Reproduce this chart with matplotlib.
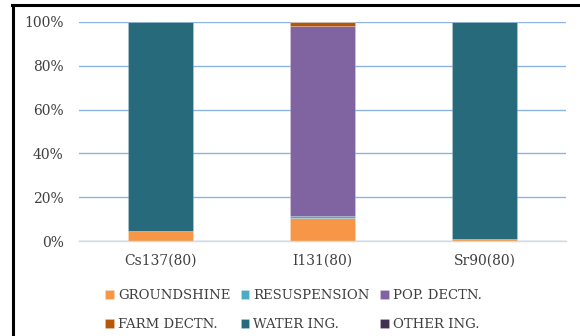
import matplotlib
matplotlib.use("Agg")
import matplotlib.pyplot as plt
from matplotlib.lines import Line2D
from matplotlib.ticker import FuncFormatter
import numpy as np

# Share of dose by exposure pathway (percent)
categories = ["Cs137(80)", "I131(80)", "Sr90(80)"]
groundshine = [4.6, 10.5, 0.9]
resuspension = [0.1, 0.8, 0.0]
pop_dectn = [0.0, 86.8, 0.0]
farm_dectn = [0.0, 1.9, 0.0]
water_ing = [95.3, 0.0, 99.1]
other_ing = [0.0, 0.0, 0.0]

series = [
    ("GROUNDSHINE", groundshine, "#F79646"),
    ("RESUSPENSION", resuspension, "#4BACC6"),
    ("POP. DECTN.", pop_dectn, "#8064A2"),
    ("FARM DECTN.", farm_dectn, "#B65708"),
    ("WATER ING.", water_ing, "#276A7C"),
    ("OTHER ING.", other_ing, "#403152"),
]

plt.rcParams["font.family"] = ["DejaVu Serif"]
text_color = "#404040"

fig = plt.figure(figsize=(5.8, 3.36), dpi=100)
ax = fig.add_axes([0.136, 0.2827, 0.840, 0.652])

x = np.arange(len(categories))
bottom = np.zeros(len(categories))
for name, vals, color in series:
    vals = np.array(vals, dtype=float)
    ax.bar(x, vals, width=0.4, bottom=bottom, color=color, label=name,
           edgecolor=(1, 1, 1, 0.25), linewidth=0.5, zorder=3)
    bottom += vals

ax.set_xlim(-0.5, len(categories) - 0.5)
ax.set_ylim(0, 100)
ax.set_yticks(np.arange(0, 101, 20))
ax.yaxis.set_major_formatter(FuncFormatter(lambda v, p: f"{v:.0f}%"))
ax.set_xticks(x)
ax.set_xticklabels(categories)
ax.grid(axis="y", color="#8EB4E3", linewidth=1.0, zorder=0)
ax.tick_params(axis="both", length=0, labelsize=10, colors=text_color)
ax.tick_params(axis="y", pad=11)
ax.tick_params(axis="x", pad=9)
for side in ("top", "right", "left"):
    ax.spines[side].set_visible(False)
ax.spines["bottom"].set_color("#D9D9D9")
ax.spines["bottom"].set_linewidth(1.0)
ax.spines["bottom"].set_zorder(4)

handles, labels = ax.get_legend_handles_labels()
# reorder so the legend fills row by row
order = [0, 3, 1, 4, 2, 5]
leg = fig.legend([handles[i] for i in order], [labels[i] for i in order],
                 loc="center", bbox_to_anchor=(0.506, 0.077), ncol=3,
                 frameon=False, fontsize=9.5, handlelength=0.65,
                 handleheight=0.65, handletextpad=0.3, columnspacing=0.8,
                 labelspacing=1.25)
for t in leg.get_texts():
    t.set_color(text_color)

# frame lines along the left and top edges of the figure
fig.add_artist(Line2D([12.5 / 580, 12.5 / 580], [0, 1 - 5 / 336],
                      transform=fig.transFigure, color="black", linewidth=2.2))
fig.add_artist(Line2D([11.5 / 580, 1], [1 - 5 / 336, 1 - 5 / 336],
                      transform=fig.transFigure, color="black", linewidth=2.2))

fig.savefig("out.png", dpi=100)
